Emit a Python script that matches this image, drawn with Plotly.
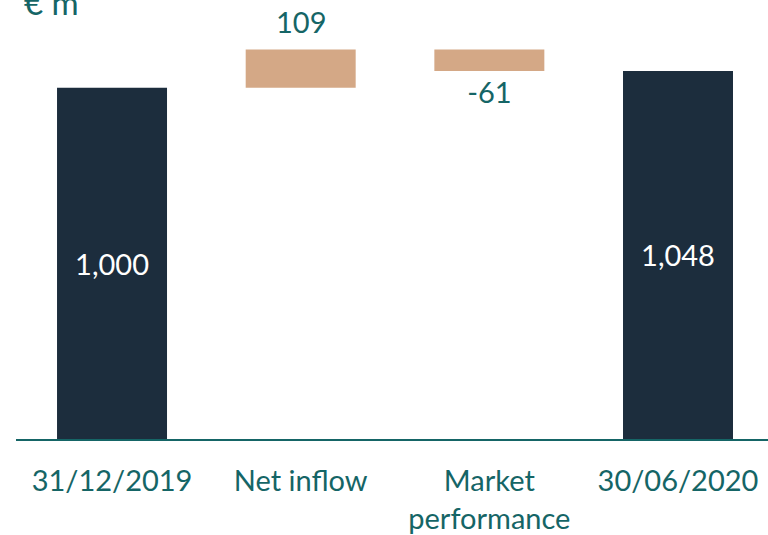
import plotly.graph_objects as go

# ==========================================================
# DATA
# ==========================================================

categories = ["31/12/2019", "Net inflow", "Market<br>performance", "30/06/2020"]
measures = ["absolute", "relative", "relative", "total"]
values = [1000, 109, -61, 1048]
value_labels = ["1,000", "109", "-61", "1,048"]

TEAL = "#156566"
NAVY = "#1c2d3d"
TAN = "#d4a886"

# ==========================================================
# WATERFALL
# ==========================================================

fig = go.Figure(
    go.Waterfall(
        x=categories,
        y=values,
        measure=measures,
        text=[value_labels[0], "", value_labels[2], value_labels[3]],
        textposition=["inside", "none", "outside", "inside"],
        insidetextanchor="middle",
        constraintext="none",
        insidetextfont={"color": "white", "size": 29, "family": "Lato"},
        outsidetextfont={"color": TEAL, "size": 29, "family": "Lato"},
        cliponaxis=False,
        width=0.583,
        connector={"visible": False},
        increasing={"marker": {"color": TAN}},
        decreasing={"marker": {"color": TAN}},
        totals={"marker": {"color": NAVY}},
        showlegend=False,
    )
)

# label above the inflow step
fig.add_annotation(
    x=categories[1],
    y=values[0] + values[1],
    text=value_labels[1],
    showarrow=False,
    yanchor="middle",
    yshift=28,
    font={"size": 29, "color": TEAL},
)

fig.add_annotation(
    text="€ m",
    xref="paper",
    yref="paper",
    x=0,
    y=1,
    xanchor="left",
    yanchor="middle",
    xshift=6,
    yshift=-2,
    showarrow=False,
    font={"size": 33, "color": TEAL},
)

fig.update_layout(
    width=768,
    height=535,
    margin={"l": 16, "r": 0, "t": 0, "b": 92},
    plot_bgcolor="white",
    paper_bgcolor="white",
    font={"family": "Lato", "color": TEAL, "size": 29},
    xaxis={
        "showline": True,
        "linecolor": TEAL,
        "linewidth": 2,
        "ticks": "",
        "ticklabelstandoff": 15,
        "tickfont": {"size": 29, "color": TEAL},
        "range": [-0.509, 3.477],
    },
    yaxis={
        "visible": False,
        "range": [0, 1250],
    },
)

fig.write_html(
    "out.html",
    config={"displayModeBar": False},
    post_script="document.body.style.margin='0';",
)
